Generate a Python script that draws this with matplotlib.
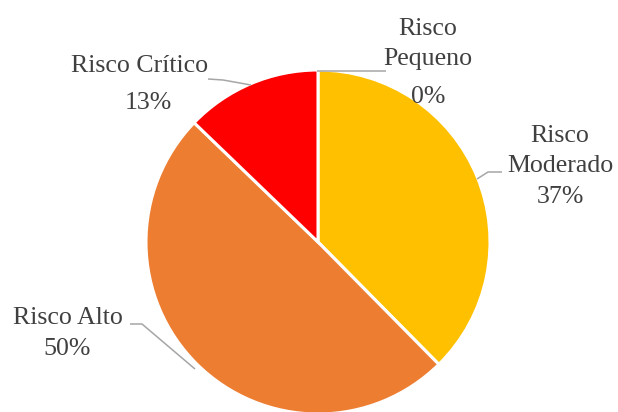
import matplotlib
matplotlib.use("Agg")
import matplotlib.pyplot as plt

# Data
categories = ["Risco Pequeno", "Risco Moderado", "Risco Alto", "Risco Crítico"]
shares = [0.0, 37.6, 49.6, 12.8]          # wedge sizes
pct_labels = ["0%", "37%", "50%", "13%"]   # percentages as printed
colors = ["#4472C4", "#FFC000", "#ED7D31", "#FF0000"]

W, H = 618, 412
fig = plt.figure(figsize=(W / 100, H / 100), dpi=100)
ax = fig.add_axes([0, 0, 1, 1])

cx, cy, r = 318, H - 242, 172
ax.pie(shares, colors=colors, startangle=90, counterclock=False,
       center=(cx, cy), radius=r,
       wedgeprops=dict(edgecolor="white", linewidth=2.2))
ax.set_xlim(0, W)
ax.set_ylim(0, H)
ax.set_aspect("equal")
ax.axis("off")

font = dict(family="Liberation Serif", fontsize=18.6, color="#404040",
            ha="center", va="center")
lc = "#A6A6A6"

def py(y):
    return H - y

# label lines: (text, x, y) in pixel coords (y from top)
label_lines = [
    [("Risco", 428, 29), ("Pequeno", 428, 59), (pct_labels[0], 428, 97)],
    [("Risco", 560, 136), ("Moderado", 560, 166), (pct_labels[1], 560, 197)],
    [("Risco Alto", 68, 318), (pct_labels[2], 67, 349)],
    [("Risco Crítico", 140, 66), (pct_labels[3], 148, 103)],
]
for lines in label_lines:
    for t, x, y in lines:
        ax.text(x, py(y), t, **font)

leaders = [
    [(317, 71), (386, 71)],
    [(477, 179), (488, 172), (502, 172)],
    [(130, 324), (142, 324), (195, 369)],
    [(208, 79), (223, 80), (251, 85)],
]
for pts in leaders:
    xs = [p[0] for p in pts]
    ys = [py(p[1]) for p in pts]
    ax.plot(xs, ys, color=lc, lw=1.1, solid_capstyle="butt", zorder=5)

fig.savefig("out.png", dpi=100)
